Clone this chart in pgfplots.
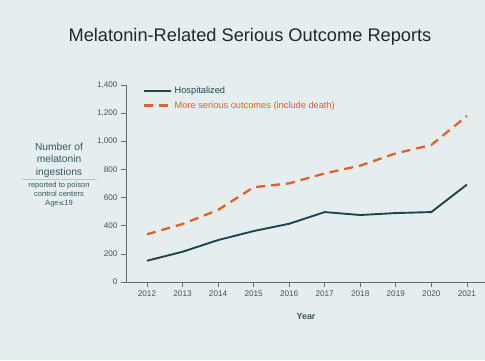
\documentclass[border=0pt]{standalone}
\usepackage{pgfplots}
\pgfplotsset{compat=1.18}
\usepackage{fontspec}
\setmainfont{Liberation Sans}
\newfontfamily\symfont{DejaVu Sans}
\definecolor{bg}{HTML}{E6EDEF}
\definecolor{teal}{HTML}{1E4650}
\definecolor{orng}{HTML}{E0622A}
\definecolor{lbl}{HTML}{365960}
\definecolor{ttl}{HTML}{1D2A30}
\begin{document}
\begin{tikzpicture}[x=1bp,y=1bp]
\fill[bg] (0,0) rectangle (485,360);
\path[use as bounding box] (0,0) rectangle (485,360);
\node[text=ttl, font=\fontsize{18.3}{20}\selectfont] at (250,323) {Melatonin-Related Serious Outcome Reports};
\node[text=lbl, align=center, font=\fontsize{10.3}{12.5}\selectfont] at (59,200) {Number of\\melatonin\\ingestions};
\draw[lbl!35, line width=0.6bp] (22,181) -- (97,181);
\node[text=lbl, align=center, font=\fontsize{7.6}{9}\selectfont] at (59,165.5) {reported to poison\\control centers\\Age{\symfont\fontsize{6.8}{9}\selectfont ≤}19};
\node[text=lbl, font=\bfseries\fontsize{9}{10}\selectfont] at (306,44) {Year};
\begin{axis}[
  at={(126bp,78bp)}, anchor=south west,
  scale only axis, width=359bp, height=197bp,
  xmin=2011.41, xmax=2021.51, ymin=0, ymax=1400,
  axis lines=left, axis line style={draw=lbl!85, line width=0.7bp, -},
  xtick={2012,...,2021}, ytick={0,200,...,1400},
  xticklabel style={/pgf/number format/1000 sep={}},
  yticklabel style={/pgf/number format/1000 sep={,}},
  /pgf/number format/assume math mode=true,
  tick label style={text=lbl, font=\fontsize{8.2}{9}\selectfont},
  tick style={draw=lbl!85, line width=0.7bp},
  tick align=outside, major tick length=5bp,
  xtick pos=bottom, ytick pos=left,
  legend style={at={(0.045,1.0)}, anchor=north west, draw=none, fill=none,
    font=\fontsize{9.3}{11}\selectfont, row sep=2bp, inner sep=0pt,
    nodes={inner xsep=3bp}},
  legend cell align=left,
  legend image code/.code={\draw[#1] (0bp,0bp) -- (27bp,0bp);},
  clip=false,
]
\addplot[teal, line width=1.9bp] coordinates {
(2012,151) (2013,215) (2014,298) (2015,362) (2016,414) (2017,497) (2018,476) (2019,490) (2020,497) (2021,692)};
\addlegendentry{\textcolor{teal}{Hospitalized}}
\addplot[orng, line width=2.3bp, dash pattern=on 9bp off 6bp] coordinates {
(2012,339) (2013,412) (2014,512) (2015,673) (2016,701) (2017,772) (2018,827) (2019,914) (2020,974) (2021,1180)};
\addlegendentry{\textcolor{orng}{More serious outcomes (include death)}}
\end{axis}
\end{tikzpicture}
\end{document}
